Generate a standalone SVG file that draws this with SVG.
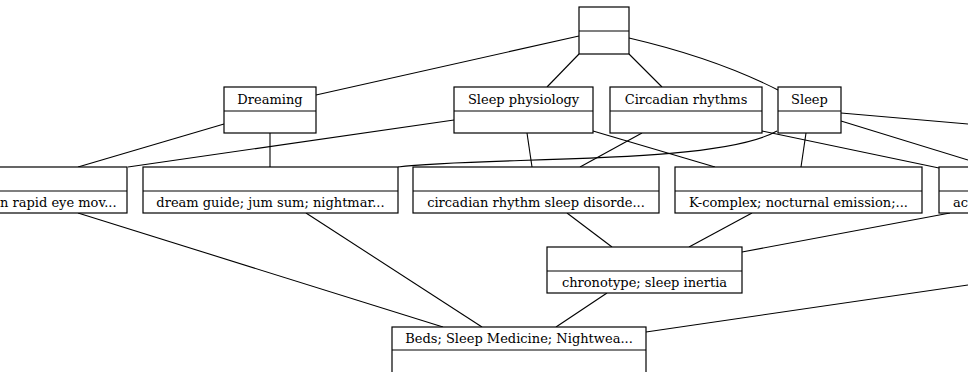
<svg xmlns="http://www.w3.org/2000/svg" width="968" height="372" viewBox="0 0 968 372">
<style>
.n rect{fill:#fff;stroke:#000;stroke-width:1.2}
.n line{stroke:#000;stroke-width:1.2}
.e path{fill:none;stroke:#000;stroke-width:1.1}
text{font-family:"DejaVu Serif","Liberation Serif",serif;font-size:13px;fill:#000;text-anchor:middle}
</style>
<rect width="968" height="372" fill="#fff"/>
<g class="e">
<path d="M579,36 L316,95"/>
<path d="M579,54 L547,87"/>
<path d="M629,54 L662,87"/>
<path d="M629,38 Q715,58 778,90"/>
<path d="M224,124 L78,167"/>
<path d="M270,133 L270,167"/>
<path d="M454,120 L128,167"/>
<path d="M527,133 L532,167"/>
<path d="M593,131 L715,167"/>
<path d="M642,133 L580,167"/>
<path d="M762,131 L939,168"/>
<path d="M777,131 C715,166 480,156 398,167"/>
<path d="M806,133 L801,167"/>
<path d="M841,113 L968,124"/>
<path d="M841,121 L968,160"/>
<path d="M78,213 L443,327"/>
<path d="M306,213 L482,327"/>
<path d="M567,213 L612,247"/>
<path d="M752,213 L689,247"/>
<path d="M950,213 L742,252"/>
<path d="M607,293 L556,327"/>
<path d="M968,285 L646,332"/>
</g>
<g class="n" id="top"><rect x="579" y="7" width="50" height="47"/><line x1="579" y1="31" x2="629" y2="31"/></g>
<g class="n" id="dreaming"><rect x="224" y="87" width="92" height="46"/><line x1="224" y1="111" x2="316" y2="111"/><text x="270" y="104">Dreaming</text></g>
<g class="n" id="sleepphys"><rect x="454" y="87" width="139" height="46"/><line x1="454" y1="111" x2="593" y2="111"/><text x="523.5" y="104">Sleep physiology</text></g>
<g class="n" id="circadian"><rect x="610" y="87" width="152" height="46"/><line x1="610" y1="111" x2="762" y2="111"/><text x="686" y="104">Circadian rhythms</text></g>
<g class="n" id="sleep"><rect x="778" y="87" width="63" height="46"/><line x1="778" y1="111" x2="841" y2="111"/><text x="809.5" y="104">Sleep</text></g>
<g class="n" id="nrem"><rect x="-130" y="167" width="257" height="46"/><line x1="-130" y1="191" x2="127" y2="191"/><text x="0" y="207" style="text-anchor:start">n rapid eye mov...</text></g>
<g class="n" id="dreamguide"><rect x="143" y="167" width="255" height="46"/><line x1="143" y1="191" x2="398" y2="191"/><text x="270.5" y="207">dream guide; jum sum; nightmar...</text></g>
<g class="n" id="crsd"><rect x="413" y="167" width="246" height="46"/><line x1="413" y1="191" x2="659" y2="191"/><text x="536" y="207">circadian rhythm sleep disorde...</text></g>
<g class="n" id="kcomplex"><rect x="675" y="167" width="247" height="46"/><line x1="675" y1="191" x2="922" y2="191"/><text x="798.5" y="207">K-complex; nocturnal emission;...</text></g>
<g class="n" id="ac"><rect x="939" y="167" width="260" height="46"/><line x1="939" y1="191" x2="1199" y2="191"/><text x="953" y="207" style="text-anchor:start">ac</text></g>
<g class="n" id="chronotype"><rect x="547" y="247" width="195" height="46"/><line x1="547" y1="271" x2="742" y2="271"/><text x="644.5" y="287">chronotype; sleep inertia</text></g>
<g class="n" id="beds"><rect x="392" y="327" width="254" height="47"/><line x1="392" y1="350" x2="646" y2="350"/><text x="519" y="343">Beds; Sleep Medicine; Nightwea...</text></g>
</svg>
